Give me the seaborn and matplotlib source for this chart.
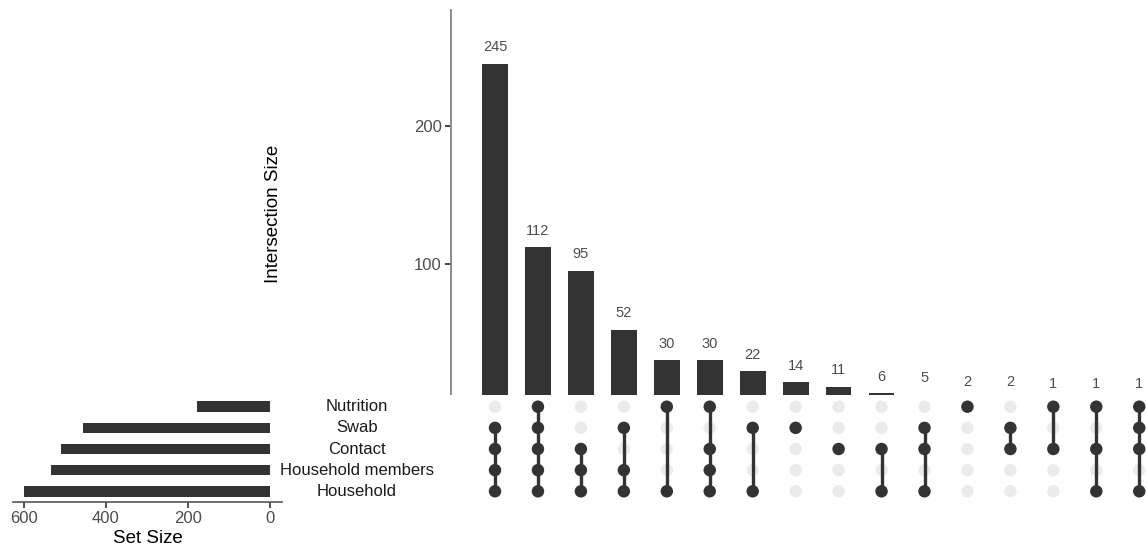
import matplotlib
matplotlib.use("Agg")
import matplotlib.pyplot as plt
import matplotlib.transforms as mtransforms
import numpy as np
import pandas as pd
import seaborn as sns

sns.set_style("white")
plt.rcParams["font.family"] = ["Liberation Sans", "DejaVu Sans"]

# Sets, top row first
set_names = ["Nutrition", "Swab", "Contact", "Household members", "Household"]
set_sizes = [179, 455, 510, 535, 600]

# Intersections, ordered by size; membership lists the sets in each one
intersection_counts = [245, 112, 95, 52, 30, 30, 22, 14, 11, 6, 5, 2, 2, 1, 1, 1]
intersection_members = [
    ["Swab", "Contact", "Household members", "Household"],
    ["Nutrition", "Swab", "Contact", "Household members", "Household"],
    ["Contact", "Household members", "Household"],
    ["Swab", "Household members", "Household"],
    ["Nutrition", "Household"],
    ["Nutrition", "Contact", "Household members", "Household"],
    ["Swab", "Household"],
    ["Swab"],
    ["Contact"],
    ["Contact", "Household"],
    ["Swab", "Contact", "Household"],
    ["Nutrition"],
    ["Swab", "Contact"],
    ["Nutrition", "Contact"],
    ["Nutrition", "Contact", "Household"],
    ["Nutrition", "Swab", "Contact", "Household"],
]

DARK = "#333333"
LIGHT = "#ebebeb"
TICK_TXT = "#4d4d4d"

W, H = 1146, 555
fig = plt.figure(figsize=(W / 100, H / 100), dpi=100)


def px_axes(x0, y0, x1, y1, **kw):
    """Axes from pixel box (top-left origin)."""
    return fig.add_axes([x0 / W, 1 - y1 / H, (x1 - x0) / W, (y1 - y0) / H], **kw)


col0, col_step = 495.0, 42.95
row0, row_step = 406.7, 21.15
n_cols = len(intersection_counts)

# ---- intersection size bars ----
ax_bar = px_axes(451, 10, 1146, 401.7, zorder=1)
bar_df = pd.DataFrame({"col": [str(i) for i in range(n_cols)],
                       "count": intersection_counts})
sns.barplot(data=bar_df, x="col", y="count", color=DARK, saturation=1,
            width=0.6, ax=ax_bar, edgecolor="none")
ax_bar.set_xlim((451 - col0) / col_step, (1146 - col0) / col_step)
ax_bar.set_ylim(0, 284)
ax_bar.set_yticks([0, 100, 200])
ax_bar.set_xticks([])
ax_bar.set_xlabel("")
ax_bar.set_ylabel("")
for s in ["top", "right", "bottom"]:
    ax_bar.spines[s].set_visible(False)
ax_bar.spines["left"].set_color("#8c8c8c")
ax_bar.spines["left"].set_linewidth(1.4)
ax_bar.tick_params(axis="y", left=True, length=4.5, width=1.3, color=DARK,
                   labelsize=12, labelcolor=TICK_TXT, pad=2)
for i, c in enumerate(intersection_counts):
    ax_bar.annotate(str(c), (i, c), xytext=(0, 7), textcoords="offset points",
                    ha="center", va="bottom", fontsize=10.5, color=TICK_TXT)
fig.text(273 / W, 1 - 213.5 / H, "Intersection Size", rotation=90,
         ha="center", va="center", fontsize=13.5, color="black")

# ---- membership matrix ----
ax_mat = px_axes(285, 395, 1146, 502, zorder=3)
ax_mat.set_facecolor("white")
ax_mat.set_xlim((285 - col0) / col_step, (1146 - col0) / col_step)
ax_mat.set_ylim((502 - row0) / row_step, (395 - row0) / row_step)
ax_mat.axis("off")
ax_mat.add_patch(plt.Rectangle((0, 0), 1, 1, transform=ax_mat.transAxes,
                               facecolor="white", edgecolor="none", zorder=0))

grid = pd.DataFrame([(i, r) for i in range(n_cols) for r in range(len(set_names))],
                    columns=["col", "row"])
sns.scatterplot(data=grid, x="col", y="row", color=LIGHT, s=80,
                edgecolor="none", ax=ax_mat, zorder=1, legend=False)
on_rows = []
for i, members in enumerate(intersection_members):
    rows = [set_names.index(m) for m in members]
    on_rows += [(i, r) for r in rows]
    if len(rows) > 1:
        ax_mat.vlines(i, min(rows), max(rows), color=DARK, linewidth=2.4, zorder=2)
on_df = pd.DataFrame(on_rows, columns=["col", "row"])
sns.scatterplot(data=on_df, x="col", y="row", color=DARK, s=80,
                edgecolor="none", ax=ax_mat, zorder=3, legend=False)
ax_mat.set_xlabel("")
ax_mat.set_ylabel("")

name_tf = mtransforms.blended_transform_factory(fig.transFigure, ax_mat.transData)
for r, name in enumerate(set_names):
    ax_mat.text(357 / W, r, name, transform=name_tf, ha="center", va="center",
                fontsize=12, color="#1a1a1a", clip_on=False, zorder=5)

# ---- set size bars ----
ax_set = px_axes(13, 395, 282, 502, zorder=1)
set_df = pd.DataFrame({"set": set_names, "size": set_sizes})
sns.barplot(data=set_df, x="size", y="set", color=DARK, saturation=1,
            width=0.5, orient="h", ax=ax_set, edgecolor="none")
ax_set.set_xlim((270 - 13) / 0.41, (270 - 282) / 0.41)
ax_set.set_ylim((502 - row0) / row_step, (395 - row0) / row_step)
ax_set.set_xticks([600, 400, 200, 0])
ax_set.set_yticks([])
ax_set.set_ylabel("")
ax_set.set_xlabel("Set Size", fontsize=13.5, color="black", labelpad=3)
for s in ["top", "right", "left"]:
    ax_set.spines[s].set_visible(False)
ax_set.spines["bottom"].set_color("#555555")
ax_set.spines["bottom"].set_linewidth(1.2)
ax_set.tick_params(axis="x", bottom=True, length=4.5, width=1.2, color=DARK,
                   labelsize=12, labelcolor=TICK_TXT, pad=2)

fig.savefig("out.png", dpi=100, facecolor="white")
